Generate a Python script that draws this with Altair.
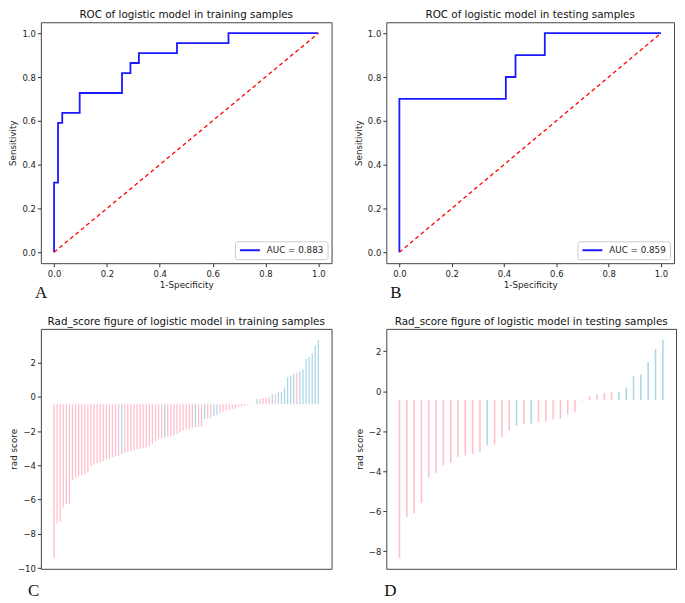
import altair as alt
import pandas as pd

# ---------------- data ----------------
# ROC curves (step points)
train_fpr = [0.0, 0.0, 0.015, 0.015, 0.031, 0.031, 0.097, 0.097, 0.257, 0.257,
             0.289, 0.289, 0.321, 0.321, 0.465, 0.465, 0.66, 0.66, 1.0]
train_tpr = [0.0, 0.318, 0.318, 0.591, 0.591, 0.636, 0.636, 0.727, 0.727, 0.818,
             0.818, 0.864, 0.864, 0.909, 0.909, 0.955, 0.955, 1.0, 1.0]
test_fpr = [0.0, 0.0, 0.407, 0.407, 0.444, 0.444, 0.556, 0.556, 1.0]
test_tpr = [0.0, 0.7, 0.7, 0.8, 0.8, 0.9, 0.9, 1.0, 1.0]
diag = [0.0, 1.0]
train_auc_label = "AUC = 0.883"
test_auc_label = "AUC = 0.859"
roc_ticks = [0.0, 0.2, 0.4, 0.6, 0.8, 1.0]

# Rad scores (sorted), label 1 = positive (light blue), 0 = negative (pink)
train_scores = [-9.40, -7.39, -7.29, -6.46, -6.27, -6.23, -4.88, -4.73, -4.67, -4.57,
                -4.50, -4.42, -4.05, -3.96, -3.88, -3.84, -3.76, -3.67, -3.61, -3.53,
                -3.47, -3.43, -3.34, -3.28, -3.22, -3.17, -3.12, -3.08, -3.04, -3.00,
                -2.95, -2.88, -2.74, -2.60, -2.48, -2.42, -2.38, -2.34, -2.30, -2.25,
                -2.18, -2.08, -1.99, -1.93, -1.88, -1.82, -1.77, -1.76, -1.75, -1.31,
                -1.28, -1.25, -1.10, -1.06, -0.96, -0.87, -0.81, -0.76, -0.71, -0.67,
                -0.62, -0.58, -0.54, -0.50, -0.46, -0.42, -0.13, -0.12, -0.08, -0.04,
                0.00, 0.14, 0.16, 0.27, 0.29, 0.54, 1.12, 1.24, 1.31, 1.39,
                1.47, 1.59, 2.22, 2.32, 2.51, 2.99, 3.32]
train_labels = [0, 0, 0, 0, 0, 0, 0, 0, 0, 0,
                0, 0, 0, 0, 0, 0, 0, 0, 0, 0,
                0, 0, 1, 0, 0, 0, 0, 0, 0, 0,
                0, 0, 0, 0, 0, 0, 1, 0, 0, 0,
                0, 0, 0, 0, 0, 0, 1, 0, 0, 1,
                0, 0, 1, 1, 0, 0, 0, 0, 0, 0,
                0, 0, 0, 0, 0, 1, 1, 0, 0, 0,
                0, 1, 0, 1, 1, 1, 1, 1, 1, 0,
                1, 1, 1, 1, 1, 1, 1]
test_scores = [-8.34, -6.30, -6.10, -5.60, -4.31, -4.08, -3.73, -3.58, -3.28, -3.21,
               -3.15, -3.03, -2.70, -2.67, -2.29, -1.96, -1.72, -1.66, -1.62, -1.54,
               -1.49, -1.42, -1.39, -1.17, -1.06, -0.47, -0.25, -0.15, -0.08, -0.06,
               -0.03, 0.18, 0.75, 0.83, 1.47, 2.11, 2.57]
test_labels = [0, 0, 0, 0, 0, 0, 0, 0, 0, 0,
               0, 0, 1, 0, 0, 0, 1, 0, 1, 0,
               0, 0, 0, 0, 0, 0, 0, 0, 0, 0,
               1, 1, 1, 1, 1, 1, 1]
rad_baseline = -0.44
train_yticks = [2, 0, -2, -4, -6, -8, -10]
test_yticks = [2, 0, -2, -4, -6, -8]

FONT = "DejaVu Sans"
SERIF = "Liberation Serif"
PINK = "#FFC0CB"
LBLUE = "#ADD8E6"


def title_params(text):
    return alt.TitleParams(text=text, font=FONT, fontSize=10.4, fontWeight="normal",
                           color="#111", offset=1.5, anchor="middle")


def letter_layer(letter, dx, dy):
    return alt.Chart(pd.DataFrame({"t": [letter]})).mark_text(
        font=SERIF, fontSize=17, align="left", baseline="alphabetic", color="#111"
    ).encode(x=alt.value(dx), y=alt.value(dy), text="t:N")


def roc_panel(fpr, tpr, auc_label, title, letter, letter_dx, w, h, ext, tpad):
    df = pd.DataFrame({"fpr": fpr, "tpr": tpr, "step": list(range(len(fpr))),
                       "label": [auc_label] * len(fpr)})
    ddf = pd.DataFrame({"fpr": diag, "tpr": diag})
    xs = alt.Scale(domain=[-0.05, 1.05], nice=False, zero=False)
    ys = alt.Scale(domain=[-0.05, 1.05], nice=False, zero=False)
    line = alt.Chart(df).mark_line(strokeWidth=1.8).encode(
        x=alt.X("fpr:Q", scale=xs,
                axis=alt.Axis(title="1-Specificity", values=roc_ticks, format=".1f",
                              labelPadding=3, titlePadding=2)),
        y=alt.Y("tpr:Q", scale=ys,
                axis=alt.Axis(title="Sensitivity", values=roc_ticks, format=".1f",
                              labelPadding=2, titlePadding=tpad,
                              minExtent=ext, maxExtent=ext)),
        order="step:Q",
        color=alt.Color("label:N", scale=alt.Scale(range=["#1a1aff"]),
                        legend=alt.Legend(orient="bottom-right", title=None,
                                          symbolType="stroke", symbolSize=400,
                                          symbolStrokeWidth=2, labelFont=FONT,
                                          labelFontSize=8.8, labelColor="#222",
                                          fillColor="white", strokeColor="#cccccc",
                                          padding=4, offset=4, cornerRadius=2,
                                          labelOffset=6, clipHeight=10)),
    )
    diag_line = alt.Chart(ddf).mark_line(color="#ff0000", strokeDash=[4, 3],
                                         strokeWidth=1.3).encode(x="fpr:Q", y="tpr:Q")
    return alt.layer(line, diag_line, letter_layer(letter, letter_dx, h + 35)).properties(
        width=w, height=h, title=title_params(title))


def rad_panel(scores, labels, yticks, title, letter, letter_dx, w, h, sw, ext, tpad):
    n = len(scores)
    df = pd.DataFrame({"idx": list(range(n)), "score": scores,
                       "base": [rad_baseline] * n, "group": labels})
    lo, hi = min(scores), max(scores)
    pad = 0.05 * (hi - lo)
    xpad = 0.05 * (n - 1)
    rules = alt.Chart(df).mark_rule(strokeWidth=sw).encode(
        x=alt.X("idx:Q", scale=alt.Scale(domain=[-xpad, n - 1 + xpad], nice=False, zero=False),
                axis=None),
        y=alt.Y("score:Q", scale=alt.Scale(domain=[lo - pad, hi + pad], nice=False, zero=False),
                axis=alt.Axis(title="rad score", values=yticks, format="d",
                              labelPadding=2, titlePadding=tpad,
                              minExtent=ext, maxExtent=ext)),
        y2="base:Q",
        color=alt.Color("group:N", scale=alt.Scale(domain=[0, 1], range=[PINK, LBLUE]),
                        legend=None),
    )
    return alt.layer(rules, letter_layer(letter, letter_dx, h + 27)).properties(
        width=w, height=h, title=title_params(title))


pa = roc_panel(train_fpr, train_tpr, train_auc_label,
               "ROC of logistic model in training samples", "A", -6, 292, 242, 19, 4)
pb = roc_panel(test_fpr, test_tpr, test_auc_label,
               "ROC of logistic model in testing samples", "B", 4, 289, 242, 19, 4)
pc = rad_panel(train_scores, train_labels, train_yticks,
               "Rad_score figure of logistic model in training samples", "C", -13, 292, 241,
               1.3, 21, 1)
pd_ = rad_panel(test_scores, test_labels, test_yticks,
                "Rad_score figure of logistic model in testing samples", "D", -2, 291, 241,
                1.6, 18, 4)

chart = alt.concat(pa, pb, pc, pd_, columns=2, spacing={"row": 66, "column": 55},
                   bounds="flush").resolve_scale(color="independent").properties(
    padding=0, background="white"
).configure_view(stroke="#444", strokeWidth=1).configure_axis(
    grid=False, domain=False, labelFont=FONT, titleFont=FONT, labelFontSize=8.5,
    titleFontSize=8.8, tickSize=3.5, tickColor="#333", labelColor="#222",
    titleColor="#222", titleFontWeight="normal"
)

chart.save("out.html", embed_options={"renderer": "svg", "actions": False})
